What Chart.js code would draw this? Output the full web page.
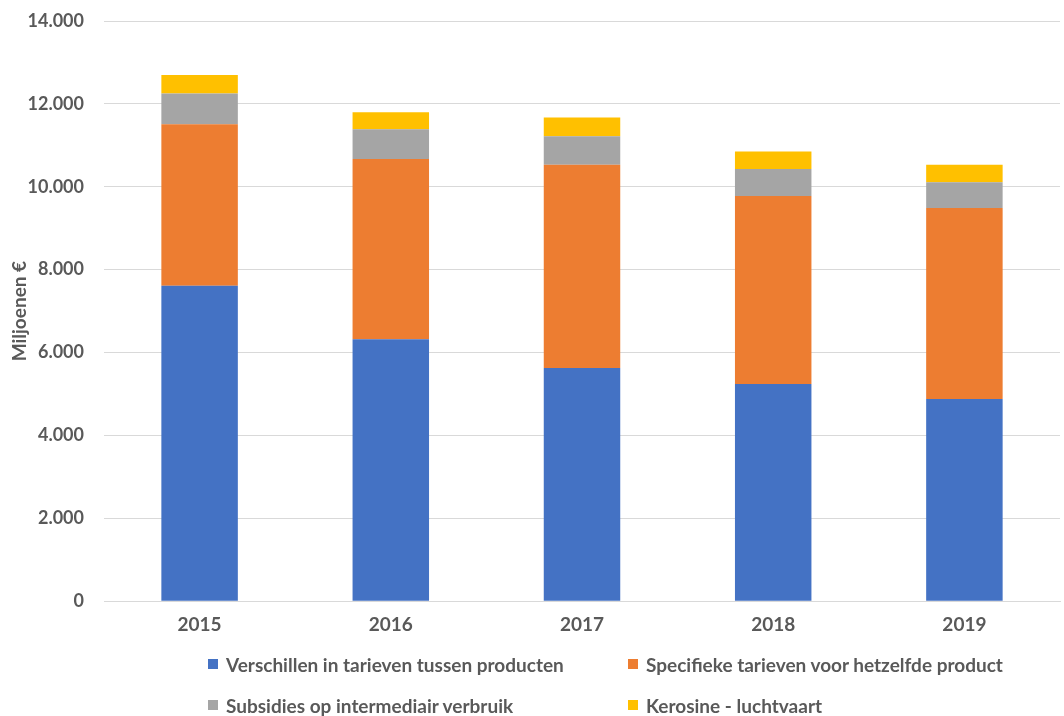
<!DOCTYPE html>
<html>
<head>
<meta charset="utf-8">
<script src="https://cdn.jsdelivr.net/npm/chart.js@4.4.1/dist/chart.umd.min.js"></script>
<style>
	html, body { margin: 0; padding: 0; background: #fff; }
	#wrap { position: relative; width: 1064px; height: 716px; }
	#chart { position: absolute; left: 0; top: 0; }
	#legend { position: absolute; left: 0; top: 645px; width: 1064px; height: 71px;
		font-family: Lato, "Open Sans", sans-serif; font-weight: bold; font-size: 19px; color: #595959; }
	.item { position: absolute; display: flex; align-items: center; white-space: nowrap; }
	.item span.box { display: inline-block; width: 10px; height: 10px; margin-right: 8px; }
</style>
</head>
<body>
<div id="wrap">
	<canvas id="chart" width="1064" height="660"></canvas>
	<div id="legend"></div>
</div>
<script>
var years = ["2015", "2016", "2017", "2018", "2019"];
var seriesNames = [
	"Verschillen in tarieven tussen producten",
	"Specifieke tarieven voor hetzelfde product",
	"Subsidies op intermediair verbruik",
	"Kerosine - luchtvaart"
];
var verschillen = [7610, 6320, 5630, 5240, 4880];
var specifieke = [3900, 4350, 4900, 4540, 4610];
var subsidies = [740, 720, 690, 650, 620];
var kerosine = [450, 410, 450, 420, 420];
var colors = ["#4472C4", "#ED7D31", "#A5A5A5", "#FFC000"];
var yTicks = [0, 2000, 4000, 6000, 8000, 10000, 12000, 14000];

function fmt(v) {
	return String(v).replace(/\B(?=(\d{3})+(?!\d))/g, ".");
}

var values = [verschillen, specifieke, subsidies, kerosine];
var datasets = [];
for (var i = 0; i < values.length; i++) {
	datasets.push({
		label: seriesNames[i],
		data: values[i],
		backgroundColor: colors[i],
		borderWidth: 0,
		categoryPercentage: 1,
		barPercentage: 0.4
	});
}

var fam = "Lato, 'Open Sans', sans-serif";

var chart = new Chart(document.getElementById("chart").getContext("2d"), {
	type: "bar",
	data: { labels: years, datasets: datasets },
	options: {
		responsive: false,
		animation: false,
		layout: { padding: { top: 0, right: 4, bottom: 12, left: 0 } },
		plugins: { legend: { display: false }, tooltip: { enabled: false } },
		scales: {
			x: {
				stacked: true,
				grid: { display: false, drawTicks: false },
				border: { display: true, color: "#d9d9d9" },
				ticks: { color: "#595959", font: { family: fam, size: 19, weight: "bold" }, padding: 12 }
			},
			y: {
				stacked: true,
				min: 0,
				max: 14000,
				afterFit: function(s) {
					s.width = 104;
					s.paddingTop = 21;
					s.paddingBottom = 0;
				},
				afterBuildTicks: function(s) { s.ticks = yTicks.map(function(v) { return { value: v }; }); },
				grid: { color: "#d9d9d9", drawTicks: false },
				border: { display: false },
				ticks: { color: "#595959", font: { family: fam, size: 18, weight: "bold" }, padding: 20, callback: function(v) { return fmt(v); } },
				title: { display: true, text: "Miljoenen €", color: "#595959", font: { family: fam, size: 19, weight: "bold" }, padding: { top: 8, bottom: 0 } }
			}
		}
	}
});

// legend in two columns like the original
var legend = document.getElementById("legend");
var pos = [[208, 19], [628, 19], [208, 60], [628, 60]];
chart.data.datasets.forEach(function(ds, i) {
	var el = document.createElement("div");
	el.className = "item";
	el.style.left = pos[i][0] + "px";
	el.style.top = (pos[i][1] - 12) + "px";
	el.style.height = "24px";
	el.innerHTML = '<span class="box" style="background:' + ds.backgroundColor + '"></span>' + ds.label;
	legend.appendChild(el);
});
</script>
</body>
</html>
